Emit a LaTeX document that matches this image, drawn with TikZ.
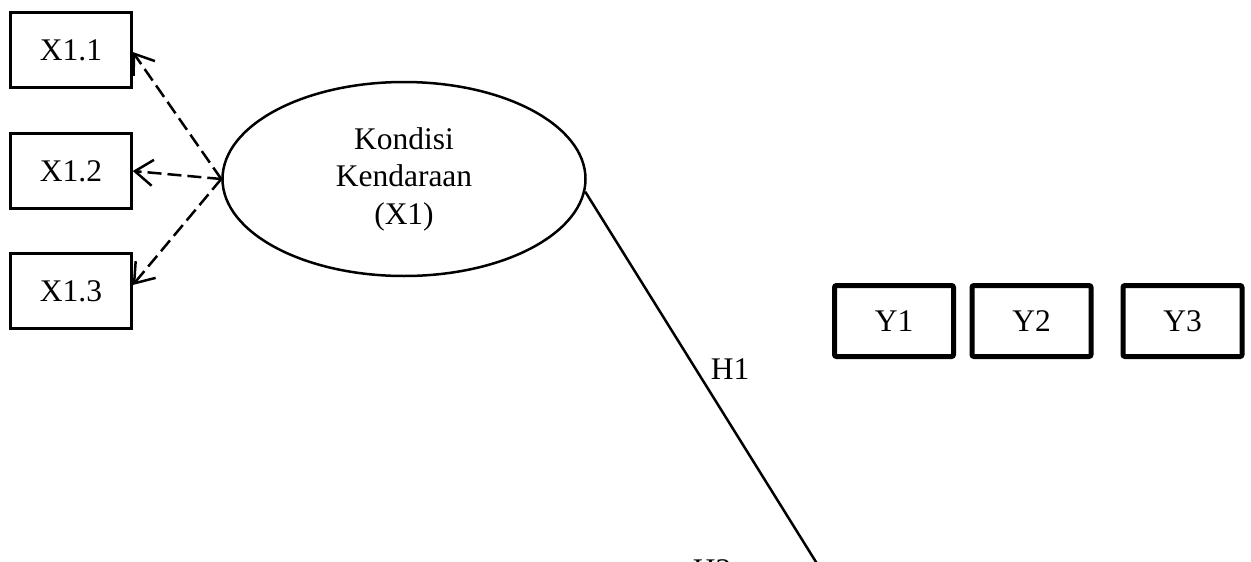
\documentclass[tikz,border=0pt]{standalone}
\usepackage{fontspec}
\setmainfont{Liberation Serif}
\usetikzlibrary{shapes.geometric,arrows.meta}
\begin{document}
\begin{tikzpicture}[x=1pt,y=-1pt,
  font=\fontsize{31.5}{37.5}\selectfont,
  indbox/.style={draw,line width=2.5pt,rectangle,minimum width=121pt,minimum height=75pt,inner sep=0pt},
  ybox/.style={draw,line width=5pt,rectangle,rounded corners=2pt,minimum width=119pt,minimum height=71pt,inner sep=0pt},
  latent/.style={draw,line width=2.5pt,ellipse,minimum width=363pt,minimum height=194pt,inner sep=0pt,align=center},
  loading/.style={line width=2.5pt,dash pattern=on 14pt off 6pt,-{Straight Barb[length=18pt,width=26pt,line width=2.5pt]}},
  path/.style={line width=2.5pt},
  lbl/.style={inner sep=0pt}]
\useasboundingbox (0,0) rectangle (1251,562);
\clip (0,0) rectangle (1251,562);

% latent variable and its indicators
\node[latent] (X1) at (404,179) {\rule{0pt}{12pt}Kondisi\\Kendaraan\\(X1)};
\node[indbox] (x11) at (71,50) {X1.1};
\node[indbox] (x12) at (71,171) {X1.2};
\node[indbox] (x13) at (71,291) {X1.3};

% dependent indicators
\node[ybox] (y1) at (894,321) {Y1};
\node[ybox] (y2) at (1031.5,321) {Y2};
\node[ybox] (y3) at (1182.5,321) {Y3};

% reflective loadings
\draw[loading] (X1.west) -- ([yshift=-2pt]x11.east);
\draw[loading] (X1.west) -- (x12.east);
\draw[loading] (X1.west) -- ([yshift=6pt]x13.east);

% structural path H1 running off the lower edge
\coordinate (pathend) at (902,700);
\draw[path] (X1.-4) -- (pathend);
\node[lbl] (h1) at (730,369) {H1};
\node[lbl,anchor=base] (h2) at (712,580.5) {H2};
\end{tikzpicture}
\end{document}
